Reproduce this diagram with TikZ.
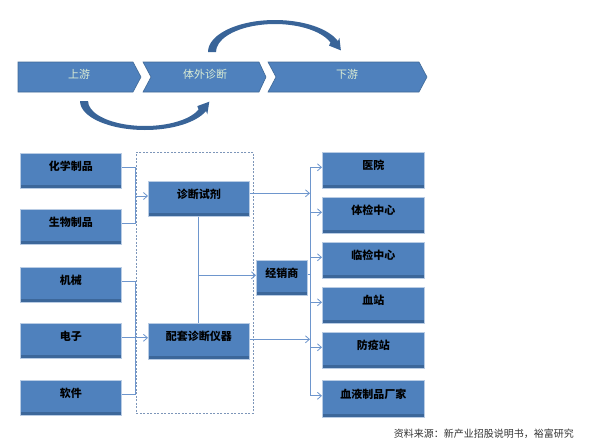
\documentclass[tikz,border=0pt]{standalone}
\usepackage{fontspec}
\setmainfont{Noto Sans CJK SC}
\usetikzlibrary{arrows.meta}
\definecolor{boxblue}{RGB}{79,129,189}
\definecolor{boxdark}{RGB}{60,103,154}
\definecolor{boxrim}{RGB}{185,204,228}
\definecolor{chevedge}{RGB}{64,105,150}
\definecolor{arcblue}{RGB}{57,100,152}
\definecolor{linkblue}{RGB}{110,150,205}
\definecolor{frameblue}{RGB}{125,150,185}
\definecolor{chevtext}{RGB}{218,236,212}
\begin{document}
\begin{tikzpicture}[x=1pt,y=-1pt,
  chev/.style={fill=boxblue,draw=chevedge,line width=0.6pt},
  chevlabel/.style={text=chevtext,font=\fontsize{11}{13}\selectfont,inner sep=0pt},
  bluebox/.style={fill=boxblue,draw=boxrim,line width=0.6pt,inner sep=0pt,anchor=north west,
     font=\bfseries\fontsize{11}{13}\selectfont,text=black,
     text height=8.5pt,text depth=10pt,
     path picture={\fill[boxdark]([yshift=3pt]path picture bounding box.south west) rectangle (path picture bounding box.south east);}},
  leftbox/.style={bluebox,minimum width=101pt,minimum height=35pt},
  rightbox/.style={bluebox,minimum width=102pt,minimum height=36pt},
  link/.style={draw=linkblue,line width=0.8pt},
  linkarrow/.style={link,-{Straight Barb[length=4pt,width=7pt]}},
  frame/.style={draw=frameblue,dash pattern=on 2pt off 1.5pt,line width=0.8pt,inner sep=0pt,anchor=north west},
  bigarc/.style={fill=arcblue}
]
\useasboundingbox (0,0) rectangle (592,445);

% chevrons
\draw[chev] (18,62) -- (133,62) -- (141,77) -- (133,92) -- (18,92) -- cycle;
\draw[chev] (143,62) -- (259,62) -- (266,77) -- (259,92) -- (143,92) -- (151,77) -- cycle;
\draw[chev] (268,62) -- (419,62) -- (427,77) -- (419,92) -- (268,92) -- (276,77) -- cycle;
\node[chevlabel] (up) at (79,74) {上游};
\node[chevlabel] (ivd) at (205,74) {体外诊断};
\node[chevlabel] (down) at (347,74) {下游};

% curved arrows
\fill[bigarc] (208,52) arc[start angle=180,end angle=340,x radius=67,y radius=32]
  -- (339.4,37.8) -- (340.9,50.4) -- (329.0,45.6) -- (330.44,42.42)
  arc[start angle=340,end angle=180,x radius=59,y radius=28] -- cycle;
\fill[bigarc] (80,101) arc[start angle=180,end angle=20,x radius=65,y radius=29]
  -- (207.3,114.3) -- (209.3,101.7) -- (197.3,106.1) -- (198.6,109.55)
  arc[start angle=20,end angle=180,x radius=57,y radius=25] -- cycle;

% dashed frame
\node[frame,minimum width=117pt,minimum height=261pt] (frm) at (136,152) {};

% left boxes
\node[leftbox] (chem) at (20,153) {化学制品};
\node[leftbox] (bio) at (20,209) {生物制品};
\node[leftbox] (mech) at (20,267) {机械};
\node[leftbox] (elec) at (20,323) {电子};
\node[leftbox] (soft) at (20,380) {软件};

% middle boxes
\node[leftbox] (reag) at (148,181) {诊断试剂};
\node[leftbox,minimum height=36pt] (instr) at (148,323) {配套诊断仪器};
\node[bluebox,minimum width=51pt,minimum height=35pt] (dist) at (256,260) {经销商};

% right boxes
\node[rightbox] (hosp) at (322,152) {医院};
\node[rightbox] (exam) at (322,197) {体检中心};
\node[rightbox] (clin) at (322,242) {临检中心};
\node[rightbox] (blood) at (322,287) {血站};
\node[rightbox] (cdc) at (322,332) {防疫站};
\node[rightbox,minimum height=37pt] (plasma) at (322,380) {血液制品厂家};

% coordinates
\coordinate (lbusA) at (135,196);
\coordinate (lbusB) at (135,338);
\coordinate (busx) at (310,0);
\coordinate (chemOut) at ([yshift=3pt]chem.east);
\coordinate (bioOut) at ([yshift=3pt]bio.east);
\coordinate (mechOut) at ([yshift=3pt]mech.east);
\coordinate (elecOut) at ([yshift=3pt]elec.east);
\coordinate (softOut) at ([yshift=3pt]soft.east);
\coordinate (rgOut) at ([yshift=5.5pt]reag.east);
\coordinate (inOut) at ([yshift=2pt]instr.east);
\coordinate (distIn) at ([yshift=2.5pt]dist.west);
\coordinate (distOut) at ([yshift=3.5pt]dist.east);
\coordinate (hospIn) at ([yshift=3pt]hosp.west);
\coordinate (examIn) at ([yshift=3pt]exam.west);
\coordinate (clinIn) at ([yshift=3pt]clin.west);
\coordinate (bloodIn) at ([yshift=3pt]blood.west);
\coordinate (cdcIn) at ([yshift=3pt]cdc.west);
\coordinate (plasmaIn) at ([yshift=3pt]plasma.west);

% left connectors
\draw[link] (chemOut) -| (lbusA);
\draw[link] (bioOut) -| (lbusA);
\draw[linkarrow] (lbusA) -- (lbusA -| reag.west);
\draw[link] (mechOut) -| (lbusB);
\draw[link] (softOut) -| (lbusB);
\draw[linkarrow] (elecOut) -- (elecOut -| instr.west);

% middle connectors
\draw[link] (reag.south) -- (instr.north);
\draw[linkarrow] (reag.south |- distIn) -- (distIn);
\draw[linkarrow] (rgOut) -- (rgOut -| busx);
\draw[linkarrow] (inOut) -- (inOut -| busx);
\draw[link] (distOut) -- (distOut -| busx);

% right bus
\draw[link] (hospIn -| busx) -- (plasmaIn -| busx);
\foreach \t in {hospIn,examIn,clinIn,bloodIn,cdcIn,plasmaIn}
  \draw[linkarrow] (\t -| busx) -- (\t);

% source
\node[anchor=east,font=\fontsize{10}{12}\selectfont,text=black!80,inner sep=0pt] (src) at (574,434) {资料来源：新产业招股说明书，裕富研究};
\end{tikzpicture}
\end{document}
